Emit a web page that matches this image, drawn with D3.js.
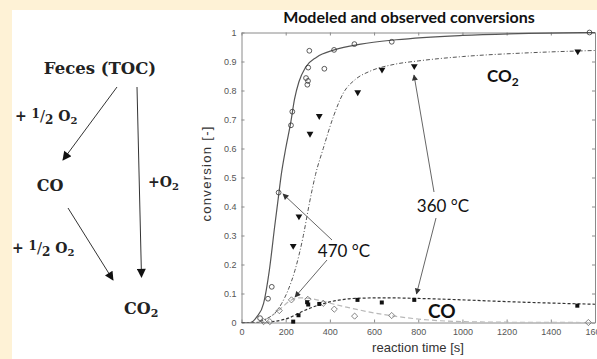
<!DOCTYPE html>
<html>
<head>
<script src="https://d3js.org/d3.v7.min.js"></script>
<style>
  body { margin: 0; background: #fff; }
  svg { display: block; }
  .axis text { font-family: 'Liberation Sans', Arial, sans-serif; font-size: 9px; fill: #555; }
  .axis path, .axis line { stroke: #8a8a8a; stroke-width: 1; }
  .scheme { font-family: 'DejaVu Serif', 'Liberation Serif', serif; font-weight: bold; fill: #222; }
  .note { font-family: Lato, 'Open Sans', sans-serif; fill: #111; }
</style>
</head>
<body>
<script>

// observed conversions (reaction time [s], conversion [-])
var co2_470_obs = [[84,0.015],[120,0.082],[137,0.123],[168,0.448],[224,0.68],[230,0.727],
  [292,0.843],[298,0.82],[301,0.833],[302,0.879],[307,0.937],[375,0.875],[419,0.94],
  [511,0.96],[680,0.968],[1575,1.0]];
var co2_360_obs = [[234,0.264],[260,0.366],[310,0.651],[352,0.712],[526,0.794],[636,0.872],
  [782,0.884],[1522,0.935]];
var co_470_obs = [[100,0.003],[128,0.003],[171,0.041],[226,0.078],[300,0.08],[370,0.066],
  [420,0.046],[512,0.022],[680,0.024],[1570,0.0]];
var co_360_obs = [[234,0.003],[258,0.025],[297,0.07],[302,0.062],[352,0.064],[525,0.078],
  [635,0.069],[782,0.078],[1520,0.058]];

// modeled curves
var co2_470_model = [[0,0],[40,0],[70,0.02],[100,0.066],[126,0.18],[150,0.33],[165,0.42],
  [180,0.51],[200,0.6],[223,0.69],[240,0.77],[260,0.83],[290,0.88],[340,0.915],[420,0.94],
  [540,0.96],[700,0.975],[1000,0.99],[1300,0.997],[1600,1.0]];
var co2_360_model = [[0,0],[60,0],[100,0.008],[130,0.02],[160,0.04],[182,0.066],[210,0.11],
  [242,0.18],[280,0.3],[307,0.41],[335,0.51],[370,0.6],[416,0.71],[460,0.79],[515,0.838],
  [580,0.866],[690,0.89],[800,0.902],[1000,0.917],[1300,0.93],[1600,0.938]];
var co_470_model = [[0,0],[60,0],[100,0.008],[140,0.025],[180,0.05],[220,0.075],[260,0.085],
  [300,0.084],[360,0.075],[420,0.063],[510,0.047],[600,0.033],[700,0.021],[800,0.012],
  [900,0.006],[1000,0.003],[1200,0.001],[1600,0]];
var co_360_model = [[0,0],[80,0],[150,0.004],[212,0.015],[272,0.037],[348,0.06],[440,0.077],
  [540,0.084],[650,0.085],[800,0.083],[1000,0.078],[1200,0.072],[1400,0.067],[1600,0.063]];

var xTicks = [0,200,400,600,800,1000,1200,1400,1600];
var xTickLabels = ["0","200","400","600","800","1000","1200","1400","1600"];
var yTicks = [0,0.1,0.2,0.3,0.4,0.5,0.6,0.7,0.8,0.9,1];
var yTickLabels = ["0","0.1","0.2","0.3","0.4","0.5","0.6","0.7","0.8","0.9","1"];

var W = 597, H = 359;
var plot = {left: 241.5, right: 595, top: 32.5, bottom: 322.5};

var svg = d3.select("body").append("svg")
    .attr("width", W).attr("height", H);

// pale yellow frame at top and left
svg.append("rect").attr("width", W).attr("height", H).attr("fill", "#fef2d6");
svg.append("rect").attr("x", 12).attr("y", 10).attr("width", W-12).attr("height", H-10).attr("fill", "#fff");

var defs = svg.append("defs");
defs.append("marker").attr("id", "headBlack")
    .attr("viewBox", "0 0 10 10").attr("refX", 9).attr("refY", 5)
    .attr("markerWidth", 11).attr("markerHeight", 9).attr("markerUnits", "userSpaceOnUse")
    .attr("orient", "auto")
  .append("path").attr("d", "M0,0 L10,5 L0,10 Z").attr("fill", "#111");
defs.append("marker").attr("id", "headGrey")
    .attr("viewBox", "0 0 10 10").attr("refX", 9).attr("refY", 5)
    .attr("markerWidth", 8).attr("markerHeight", 6).attr("markerUnits", "userSpaceOnUse")
    .attr("orient", "auto")
  .append("path").attr("d", "M0,0 L10,5 L0,10 Z").attr("fill", "#333");
defs.append("clipPath").attr("id", "clip")
  .append("rect").attr("x", plot.left).attr("y", plot.top - 2)
    .attr("width", plot.right - plot.left).attr("height", plot.bottom - plot.top + 2);

// ---- reaction scheme on the left ----
var scheme = svg.append("g").attr("class", "scheme");

scheme.append("text").attr("x", 100).attr("y", 74).attr("text-anchor", "middle")
    .attr("font-size", 16.5).text("Feces (TOC)");

function halfO2(x, y) {
  var t = scheme.append("text").attr("x", x).attr("y", y).attr("font-size", 14);
  t.append("tspan").text("+ ");
  t.append("tspan").attr("dy", -3).attr("font-size", 12).text("1");
  t.append("tspan").attr("dy", 3).attr("font-size", 15).attr("font-weight", "normal").text("/");
  t.append("tspan").attr("dy", 3).attr("font-size", 12).text("2");
  t.append("tspan").attr("dy", -3).text(" O");
  t.append("tspan").attr("dy", 3).attr("font-size", 10).text("2");
}
halfO2(15, 121);
halfO2(12, 253);

scheme.append("text").attr("x", 50).attr("y", 191).attr("text-anchor", "middle")
    .attr("font-size", 16).text("CO");
var po2 = scheme.append("text").attr("x", 148).attr("y", 187).attr("font-size", 14);
po2.append("tspan").text("+O");
po2.append("tspan").attr("dy", 3).attr("font-size", 10).text("2");
var sco2 = scheme.append("text").attr("x", 124).attr("y", 314).attr("font-size", 16);
sco2.append("tspan").text("CO");
sco2.append("tspan").attr("dy", 3).attr("font-size", 11).text("2");

var schemeArrows = [[117, 87, 63, 160], [137, 87, 141.5, 277], [68, 208, 113, 280]];
svg.selectAll(".sarrow").data(schemeArrows).enter().append("line")
    .attr("class", "sarrow")
    .attr("x1", function(d) { return d[0]; }).attr("y1", function(d) { return d[1]; })
    .attr("x2", function(d) { return d[2]; }).attr("y2", function(d) { return d[3]; })
    .attr("stroke", "#333").attr("stroke-width", 1)
    .attr("marker-end", "url(#headBlack)");

// ---- chart ----
var x = d3.scaleLinear().domain([0, 1600]).range([plot.left, plot.right]);
var y = d3.scaleLinear().domain([0, 1]).range([plot.bottom, plot.top]);

svg.append("text").attr("class", "note")
    .attr("x", 409).attr("y", 23).attr("text-anchor", "middle")
    .attr("font-size", 16).attr("font-weight", "bold")
    .text("Modeled and observed conversions");

svg.append("g").attr("class", "axis")
    .attr("transform", "translate(0," + plot.bottom + ")")
    .call(d3.axisBottom(x).tickValues(xTicks).tickSizeInner(-3).tickSizeOuter(0).tickPadding(6)
      .tickFormat(function(d, i) { return xTickLabels[i]; }));
svg.append("g").attr("class", "axis")
    .attr("transform", "translate(0," + plot.top + ")")
    .call(d3.axisTop(x).tickValues(xTicks).tickSizeInner(-3).tickSizeOuter(0).tickFormat(""));
svg.append("g").attr("class", "axis")
    .attr("transform", "translate(" + plot.left + ",0)")
    .call(d3.axisLeft(y).tickValues(yTicks).tickSizeInner(-3).tickSizeOuter(0).tickPadding(5)
      .tickFormat(function(d, i) { return yTickLabels[i]; }));
svg.append("g").attr("class", "axis")
    .attr("transform", "translate(" + plot.right + ",0)")
    .call(d3.axisRight(y).tickValues(yTicks).tickSizeInner(-3).tickSizeOuter(0).tickFormat(""));

svg.append("text").attr("x", 418).attr("y", 352).attr("text-anchor", "middle")
    .style("font-family", "'Liberation Sans', Arial, sans-serif").style("font-size", "13px")
    .attr("fill", "#333").text("reaction time [s]");
svg.append("text").attr("transform", "translate(211,174) rotate(-90)").attr("text-anchor", "middle")
    .attr("textLength", 95).attr("lengthAdjust", "spacing")
    .style("font-family", "'Liberation Sans', Arial, sans-serif").style("font-size", "13px")
    .attr("fill", "#333").text("conversion [-]");

var line = d3.line()
    .x(function(d) { return x(d[0]); })
    .y(function(d) { return y(d[1]); })
    .curve(d3.curveMonotoneX);

var curves = svg.append("g").attr("clip-path", "url(#clip)");
curves.append("path").datum(co_470_model).attr("d", line)
    .attr("fill", "none").attr("stroke", "#b8b8b8").attr("stroke-width", 1.2).attr("stroke-dasharray", "5,3");
curves.append("path").datum(co_360_model).attr("d", line)
    .attr("fill", "none").attr("stroke", "#333").attr("stroke-width", 1.2).attr("stroke-dasharray", "3,2");
curves.append("path").datum(co2_360_model).attr("d", line)
    .attr("fill", "none").attr("stroke", "#555").attr("stroke-width", 1).attr("stroke-dasharray", "4,2,1,2");
curves.append("path").datum(co2_470_model).attr("d", line)
    .attr("fill", "none").attr("stroke", "#555").attr("stroke-width", 1.2);

// markers
svg.selectAll(".circ").data(co2_470_obs).enter().append("circle")
    .attr("class", "circ")
    .attr("cx", function(d) { return x(d[0]); }).attr("cy", function(d) { return y(d[1]); })
    .attr("r", 2.4).attr("fill", "none").attr("stroke", "#333").attr("stroke-width", 0.8);
svg.selectAll(".diam").data(co_470_obs).enter().append("path")
    .attr("class", "diam")
    .attr("transform", function(d) { return "translate(" + x(d[0]) + "," + y(d[1]) + ")"; })
    .attr("d", d3.symbol(d3.symbolDiamond2, 24))
    .attr("fill", "none").attr("stroke", "#666").attr("stroke-width", 0.8);
svg.selectAll(".tri").data(co2_360_obs).enter().append("path")
    .attr("class", "tri")
    .attr("transform", function(d) { return "translate(" + x(d[0]) + "," + y(d[1]) + ") rotate(180)"; })
    .attr("d", d3.symbol(d3.symbolTriangle, 20))
    .attr("fill", "#111");
svg.selectAll(".sq").data(co_360_obs).enter().append("path")
    .attr("class", "sq")
    .attr("transform", function(d) { return "translate(" + x(d[0]) + "," + y(d[1]) + ")"; })
    .attr("d", d3.symbol(d3.symbolSquare, 16))
    .attr("fill", "#111");

// annotations
var c1 = svg.append("text").attr("class", "note").attr("x", 487).attr("y", 82)
    .attr("font-size", 17).attr("font-weight", "bold");
c1.append("tspan").text("CO");
c1.append("tspan").attr("dy", 4).attr("font-size", 12).text("2");
svg.append("text").attr("class", "note").attr("x", 428).attr("y", 318)
    .attr("font-size", 19).attr("font-weight", "bold").text("CO");
svg.append("text").attr("class", "note").attr("x", 443).attr("y", 212).attr("text-anchor", "middle")
    .attr("font-size", 17).text("360 \u00b0C");
svg.append("text").attr("class", "note").attr("x", 344).attr("y", 257).attr("text-anchor", "middle")
    .attr("font-size", 17).text("470 \u00b0C");

var noteArrows = [[434, 192, 414, 75], [436, 218, 416.5, 294], [332, 240, 283, 194], [327, 260, 295, 297]];
svg.selectAll(".narrow").data(noteArrows).enter().append("line")
    .attr("class", "narrow")
    .attr("x1", function(d) { return d[0]; }).attr("y1", function(d) { return d[1]; })
    .attr("x2", function(d) { return d[2]; }).attr("y2", function(d) { return d[3]; })
    .attr("stroke", "#666").attr("stroke-width", 1)
    .attr("marker-end", "url(#headGrey)");

</script>
</body>
</html>
